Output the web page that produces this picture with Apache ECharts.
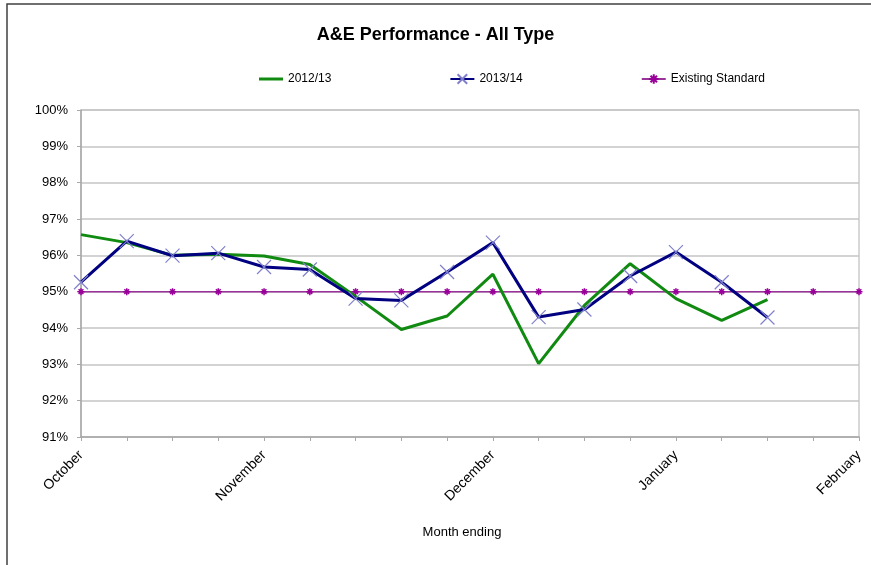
<!DOCTYPE html>
<html>
<head>
<meta charset="utf-8">
<title>A&amp;E Performance - All Type</title>
<script src="https://cdn.jsdelivr.net/npm/echarts@6/dist/echarts.min.js"></script>
<style>
  html, body { margin: 0; padding: 0; background: #fff; }
  #chart { width: 871px; height: 565px; }
</style>
</head>
<body>
<div id="chart"></div>
<script>
// Weekly points, October to February; only month-ending weeks are labelled
const weekLabels = ['October', '', '', '', 'November', '', '', '', '', 'December',
  '', '', '', 'January', '', '', '', 'February'];

// Percentage of patients seen within 4 hours
const perf2012 = [96.57, 96.35, 96.0, 96.03, 95.98, 95.75, 94.87, 93.96, 94.33, 95.48,
  93.02, 94.62, 95.77, 94.81, 94.21, 94.78, null, null];
const perf2013 = [95.26, 96.39, 95.99, 96.06, 95.68, 95.61, 94.81, 94.76, 95.54, 96.35,
  94.30, 94.51, 95.43, 96.09, 95.26, 94.29, null, null];
const standard = [95, 95, 95, 95, 95, 95, 95, 95, 95, 95, 95, 95, 95, 95, 95, 95, 95, 95];

const yTicks = { min: 91, max: 100, step: 1 };

const FONT = '"Liberation Sans", Arial, sans-serif';
const crossPath = 'path://M0,0L10,10M10,0L0,10';
const starPath = 'path://M5,0L5,10M0,5L10,5M1.6,1.6L8.4,8.4M8.4,1.6L1.6,8.4';
const lineIcon = 'path://M0,0L24,0L24,3L0,3Z';

const chart = echarts.init(document.getElementById('chart'), null, { renderer: 'canvas' });

chart.setOption({
  animation: false,
  backgroundColor: '#ffffff',
  textStyle: { fontFamily: FONT },
  title: {
    text: 'A&E Performance - All Type',
    left: 'center',
    top: 21,
    textStyle: { fontFamily: FONT, fontSize: 18, fontWeight: 'bold', color: '#000' }
  },
  legend: {
    top: 68,
    left: 254,
    itemGap: 118,
    itemWidth: 24,
    itemHeight: 12,
    textStyle: { fontFamily: FONT, fontSize: 12, color: '#000' },
    data: [
      { name: '2012/13', icon: lineIcon, itemStyle: { color: '#108a10' } },
      '2013/14',
      'Existing Standard'
    ]
  },
  grid: { left: 81, right: 12, top: 110, bottom: 128, containLabel: false,
    show: true, borderColor: '#b0b0b0', borderWidth: 1 },
  xAxis: {
    type: 'category',
    data: weekLabels,
    boundaryGap: false,
    name: 'Month ending',
    nameLocation: 'middle',
    nameGap: 89,
    nameTextStyle: { fontFamily: FONT, fontSize: 13, color: '#000', padding: [0, 16, 0, 0] },
    axisLine: { lineStyle: { color: '#a8a8a8', width: 1.5 } },
    axisTick: { show: true, interval: 0, length: 4, lineStyle: { color: '#a8a8a8' } },
    axisLabel: { interval: 0, rotate: 45, margin: 16, fontFamily: FONT, fontSize: 14, color: '#000' },
    splitLine: { show: false }
  },
  yAxis: {
    type: 'value',
    min: yTicks.min,
    max: yTicks.max,
    interval: yTicks.step,
    axisLine: { show: true, lineStyle: { color: '#a8a8a8', width: 1.5 } },
    axisTick: { show: true, length: 4, lineStyle: { color: '#a8a8a8' } },
    axisLabel: { formatter: '{value}%', margin: 13, fontFamily: FONT, fontSize: 13, color: '#000' },
    splitLine: { show: true, lineStyle: { color: '#c4c4c4', width: 1.5 } }
  },
  series: [
    {
      name: '2012/13',
      type: 'line',
      data: perf2012,
      symbol: 'none',
      color: '#108a10',
      lineStyle: { color: '#108a10', width: 3 },
      z: 2
    },
    {
      name: '2013/14',
      type: 'line',
      data: perf2013,
      symbol: crossPath,
      symbolSize: 14,
      color: '#000080',
      lineStyle: { color: '#000080', width: 3 },
      itemStyle: { color: 'rgba(0,0,0,0)', borderColor: '#8080cc', borderWidth: 1.2 },
      z: 3
    },
    {
      name: 'Existing Standard',
      type: 'line',
      data: standard,
      symbol: starPath,
      symbolSize: 7,
      color: '#993399',
      lineStyle: { color: '#993399', width: 1.5 },
      itemStyle: { color: 'rgba(0,0,0,0)', borderColor: '#990099', borderWidth: 1.5 },
      z: 1
    }
  ],
  graphic: [
    {
      type: 'polyline',
      shape: { points: [[7, 565], [7, 4], [871, 4]] },
      style: { stroke: '#404040', lineWidth: 1.5, fill: null },
      silent: true
    }
  ]
});
</script>
</body>
</html>
